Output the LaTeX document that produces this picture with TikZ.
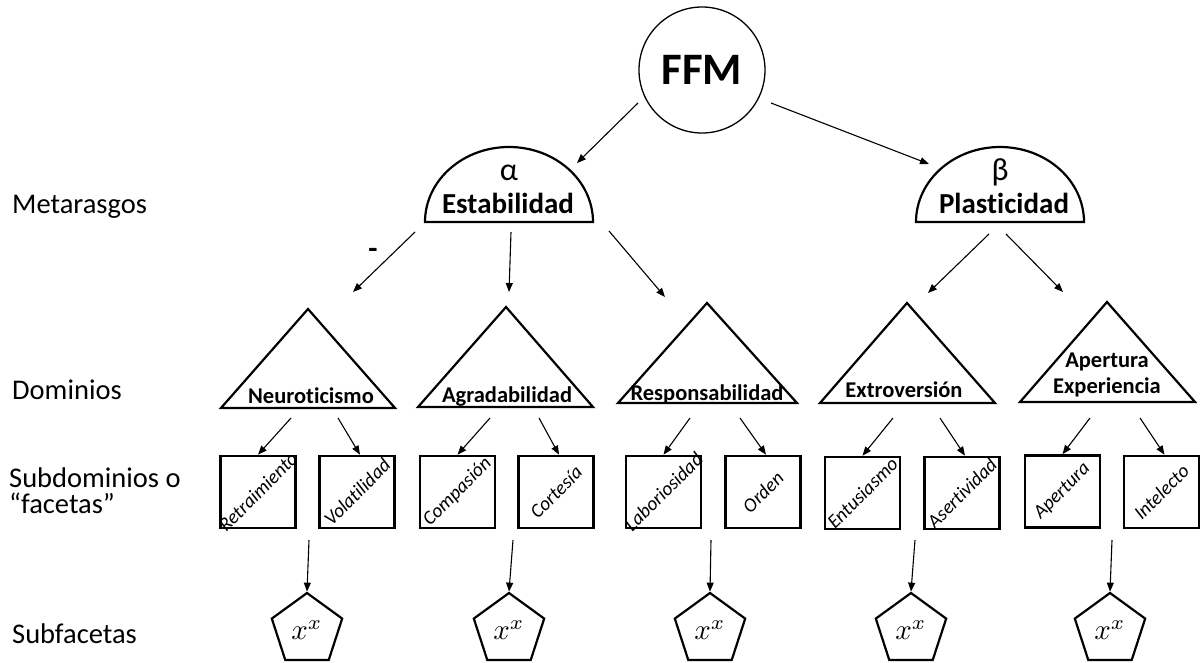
\documentclass[tikz,border=0pt]{standalone}
\usepackage{fontspec}
\setmainfont{Carlito}[Ligatures=NoCommon]
\usetikzlibrary{arrows.meta,shapes.geometric}
\newcommand{\subfx}{\scalebox{2.9}{$x^x$}}
\begin{document}
\begin{tikzpicture}[x=1pt,y=-1pt,
  conn/.style={-{Triangle[length=9pt,width=7pt]}, line width=1.1pt},
  outline/.style={draw, line width=2.2pt, line join=miter},
  lvl/.style={anchor=base west, font=\fontsize{28.5}{26}\selectfont, inner sep=0},
  meta/.style={anchor=base, font=\bfseries\fontsize{29}{29}\selectfont, inner sep=0},
  greek/.style={font=\fontsize{32}{32}\selectfont, inner sep=0},
  dom/.style={anchor=base, font=\bfseries\fontsize{22.5}{26}\selectfont, inner sep=0, align=center},
  facet/.style={font=\itshape\fontsize{19.5}{19.5}\selectfont, rotate=45, inner sep=0},
  facetbox/.style={draw, line width=2.6pt, minimum width=75pt, minimum height=72pt, inner sep=0},
  pent/.style={draw, regular polygon, regular polygon sides=5, minimum size=74pt, line width=2.2pt, inner sep=0},
]
\useasboundingbox (0,0) rectangle (1203,662);

% level labels
\node[lvl] (l1) at (12,213) {Metarasgos};
\node[lvl] (l2) at (12,399) {Dominios};
\node[lvl] (l3) at (9,487) {Subdominios o};
\node[lvl] (l3b) at (9,513) {“facetas”};
\node[lvl] (l4) at (12,643) {Subfacetas};

% root
\node[draw, circle, minimum size=126pt, line width=1.3pt, inner sep=0,
      font=\bfseries\fontsize{45}{45}\selectfont] (ffm) at (702,70) {FFM};

% metatraits (half ellipses)
\draw[outline] (425,222) arc[start angle=180, end angle=360, x radius=84, y radius=75] -- cycle;
\coordinate (est) at (509,222);
\node[greek] (est-g) at (509,173) {α};
\node[meta] (est-t) at (508,213) {Estabilidad};

\draw[outline] (916,222) arc[start angle=180, end angle=360, x radius=84, y radius=75] -- cycle;
\coordinate (pla) at (1000,222);
\node[greek] (pla-g) at (1000,172) {β};
\node[meta] (pla-t) at (1004,213) {Plasticidad};

% domains (triangles)
\draw[outline] (308,309) -- (395,408) -- (221,408) -- cycle;
\node[dom] (neu) at (311,403) {Neuroticismo};
\draw[outline] (506,307) -- (593,407) -- (418,407) -- cycle;
\node[dom] (agr) at (507,402) {Agradabilidad};
\draw[outline] (707,303) -- (797,403) -- (618,403) -- cycle;
\node[dom] (res) at (707,400) {Responsabilidad};
\draw[outline] (907,303) -- (995,403) -- (820,403) -- cycle;
\node[dom] (ext) at (904,397) {Extroversión};
\draw[outline] (1107,302) -- (1195,402) -- (1020,402) -- cycle;
\node[dom] (ape) at (1107,393) {Apertura\\Experiencia};

% facets
\node[facetbox] (f1) at (258,492) {};
\node[facetbox] (f2) at (357,492) {};
\node[facetbox] (f3) at (457.5,492) {};
\node[facetbox] (f4) at (556,492) {};
\node[facetbox] (f5) at (663.5,492) {};
\node[facetbox] (f6) at (763,492) {};
\node[facetbox] (f7) at (862.5,493) {};
\node[facetbox] (f8) at (962,493) {};
\node[facetbox] (f9) at (1062.5,491.5) {};
\node[facetbox] (f10) at (1161.5,492) {};
\node[facet] (t1) at (f1) {Retraimiento};
\node[facet] (t2) at (f2) {Volatilidad};
\node[facet] (t3) at (f3) {Compasión};
\node[facet] (t4) at (f4) {Cortesía};
\node[facet] (t5) at (f5) {Laboriosidad};
\node[facet] (t6) at (f6) {Orden};
\node[facet] (t7) at (f7) {Entusiasmo};
\node[facet] (t8) at (f8) {Asertividad};
\node[facet] (t9) at (f9) {Apertura};
\node[facet] (t10) at (f10) {Intelecto};

% subfacets
\node[pent] (s1) at (307,630) {\subfx};
\node[pent] (s2) at (509,630) {\subfx};
\node[pent] (s3) at (710,630) {\subfx};
\node[pent] (s4) at (911,630) {\subfx};
\node[pent] (s5) at (1110,630) {\subfx};

% connector end points
\coordinate (ffm-a) at (638,103);  \coordinate (est-in) at (577,163);
\coordinate (ffm-b) at (771,103);  \coordinate (pla-in) at (929,164);
\coordinate (est-a) at (415,232);  \coordinate (neu-in) at (353,292);
\coordinate (est-b) at (511,232);  \coordinate (agr-in) at (509,292);
\coordinate (est-c) at (609,231);  \coordinate (res-in) at (665,297);
\coordinate (pla-a) at (989,234);  \coordinate (ext-in) at (928,293);
\coordinate (pla-b) at (1006,234); \coordinate (ape-in) at (1063,292);

\coordinate (neu-a) at (291,418);  \coordinate (neu-b) at (338,418);
\coordinate (agr-a) at (490,418);  \coordinate (agr-b) at (539,418);
\coordinate (res-a) at (690,418);  \coordinate (res-b) at (740,418);
\coordinate (ext-a) at (893,418);  \coordinate (ext-b) at (940,418);
\coordinate (ape-a) at (1090,418); \coordinate (ape-b) at (1140,418);

\draw[conn] (ffm-a) -- (est-in);
\draw[conn] (ffm-b) -- (pla-in);
\draw[conn] (est-a) -- (neu-in);
\node[font=\bfseries\fontsize{30}{30}\selectfont, inner sep=0] (neg) at (373,253) {-};
\draw[conn] (est-b) -- (agr-in);
\draw[conn] (est-c) -- (res-in);
\draw[conn] (pla-a) -- (ext-in);
\draw[conn] (pla-b) -- (ape-in);

\draw[conn] (neu-a) -- (f1.north);
\draw[conn] (neu-b) -- ([xshift=3pt]f2.north);
\draw[conn] (agr-a) -- (f3.north);
\draw[conn] (agr-b) -- ([xshift=3pt]f4.north);
\draw[conn] (res-a) -- (f5.north);
\draw[conn] (res-b) -- ([xshift=3pt]f6.north);
\draw[conn] (ext-a) -- (f7.north);
\draw[conn] (ext-b) -- ([xshift=3pt]f8.north);
\draw[conn] (ape-a) -- (f9.north);
\draw[conn] (ape-b) -- ([xshift=3pt]f10.north);

\coordinate (d1) at (309,540); \coordinate (d2) at (513,540); \coordinate (d3) at (711,540);
\coordinate (d4) at (915,540); \coordinate (d5) at (1112,540);
\draw[conn] (d1) -- (s1.north);
\draw[conn] (d2) -- (s2.north);
\draw[conn] (d3) -- (s3.north);
\draw[conn] (d4) -- (s4.north);
\draw[conn] (d5) -- (s5.north);
\end{tikzpicture}
\end{document}
